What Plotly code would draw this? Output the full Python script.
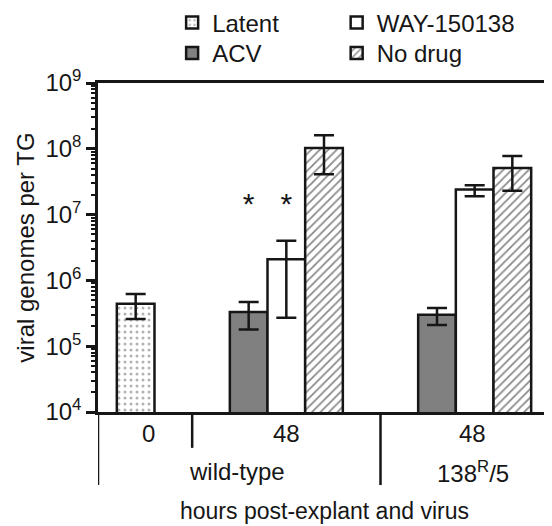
import plotly.graph_objects as go

# ---- data ----
series_names = ["Latent", "ACV", "WAY-150138", "No drug"]
group_centers = [1.0, 5.0, 10.0]  # 0 h; 48 h wild-type; 48 h 138R/5

latent_x = [1.0]
latent_val = [4.4e5]
latent_hi = [6.2e5]
latent_lo = [2.6e5]

treat_x = [5.0, 10.0]
acv_val = [3.3e5, 3.0e5]
acv_hi = [4.7e5, 3.8e5]
acv_lo = [1.8e5, 2.1e5]

way_val = [2.1e6, 2.4e7]
way_hi = [4.0e6, 2.8e7]
way_lo = [2.7e5, 1.9e7]

nod_val = [1.03e8, 5.1e7]
nod_hi = [1.6e8, 7.8e7]
nod_lo = [4.1e7, 2.3e7]

star_x = [4.0, 5.0]
star_y = [1.35e7, 1.35e7]

ytick_vals = [1e4, 1e5, 1e6, 1e7, 1e8, 1e9]
ytick_text = ["10<sup>4</sup>", "10<sup>5</sup>", "10<sup>6</sup>",
              "10<sup>7</sup>", "10<sup>8</sup>", "10<sup>9</sup>"]

time_labels = ["0", "48", "48"]
time_label_x = [1.33, 5.0, 9.95]
virus_labels = ["wild-type", "138<sup>R</sup>/5"]
virus_label_x = [3.7, 9.95]
xaxis_title = "hours post-explant and virus"
yaxis_title = "viral genomes per TG"

FONT = "Liberation Sans, Arial, sans-serif"
FS = 24
INK = "#161616"
LW = 2.5


def err(vals, hi, lo):
    return dict(type="data", symmetric=False,
                array=[h - v for h, v in zip(hi, vals)],
                arrayminus=[v - l for v, l in zip(vals, lo)],
                color=INK, thickness=2.5, width=10)


fig = go.Figure()
fig.add_trace(go.Bar(
    name=series_names[0], x=latent_x, y=latent_val, width=1, offset=-0.5,
    marker=dict(color="white", line=dict(color=INK, width=LW),
                pattern=dict(shape=".", fgcolor="#666666", bgcolor="white",
                             size=6, solidity=0.2)),
    error_y=err(latent_val, latent_hi, latent_lo), legend="legend"))
fig.add_trace(go.Bar(
    name=series_names[1], x=treat_x, y=acv_val, width=1, offset=-1.5,
    marker=dict(color="#808080", line=dict(color=INK, width=LW)),
    error_y=err(acv_val, acv_hi, acv_lo), legend="legend2"))
fig.add_trace(go.Bar(
    name=series_names[2], x=treat_x, y=way_val, width=1, offset=-0.5,
    marker=dict(color="white", line=dict(color=INK, width=LW)),
    error_y=err(way_val, way_hi, way_lo), legend="legend3"))
fig.add_trace(go.Bar(
    name=series_names[3], x=treat_x, y=nod_val, width=1, offset=0.5,
    marker=dict(color="white", line=dict(color=INK, width=LW),
                pattern=dict(shape="/", fgcolor=INK, bgcolor="white",
                             size=6, solidity=0.3)),
    error_y=err(nod_val, nod_hi, nod_lo), legend="legend4"))
fig.add_trace(go.Scatter(
    x=star_x, y=star_y, mode="text", text=["*"] * len(star_x),
    textfont=dict(size=30, color=INK, family=FONT), showlegend=False,
    hoverinfo="skip"))

# category annotations below axis
annotations = []
for t, xv in zip(time_labels, time_label_x):
    annotations.append(dict(x=xv, y=-0.064, xref="x", yref="paper", text=t,
                            showarrow=False, font=dict(size=FS, color=INK, family=FONT),
                            yanchor="middle"))
for t, xv in zip(virus_labels, virus_label_x):
    annotations.append(dict(x=xv, y=-0.182, xref="x", yref="paper", text=t,
                            showarrow=False, font=dict(size=FS, color=INK, family=FONT),
                            yanchor="middle"))
annotations.append(dict(x=0.5, y=-0.301, xref="paper", yref="paper", text=xaxis_title,
                        showarrow=False, font=dict(size=23, color=INK, family=FONT),
                        yanchor="middle"))

shapes = []
for xv, y0 in [(0, -0.222), (2.5, -0.109), (7.5, -0.222), (12, -0.222)]:
    shapes.append(dict(type="line", xref="x", yref="paper", x0=xv, x1=xv,
                       y0=0, y1=y0, line=dict(color=INK, width=LW)))

leg_common = dict(orientation="v", xanchor="left", yanchor="top",
                  font=dict(size=FS, color=INK, family=FONT),
                  bgcolor="rgba(0,0,0,0)")
# The page body has an 8px margin, so the figure is 8px smaller each way
fig.update_layout(
    width=544, height=518,
    margin=dict(l=90, r=2, t=75, b=114, autoexpand=False),
    plot_bgcolor="white", paper_bgcolor="white",
    barmode="overlay",
    font=dict(family=FONT, size=FS, color=INK),
    showlegend=True,
    legend=dict(x=0.164, y=1.251, **leg_common),
    legend2=dict(x=0.164, y=1.158, **leg_common),
    legend3=dict(x=0.528, y=1.251, **leg_common),
    legend4=dict(x=0.528, y=1.158, **leg_common),
    annotations=annotations,
    shapes=shapes,
)
fig.update_xaxes(range=[0, 12], showticklabels=False, ticks="", showgrid=False,
                 zeroline=False, showline=True, linecolor=INK, linewidth=LW, mirror=True,
                 automargin=False)
fig.update_yaxes(type="log", range=[4, 9], tickvals=ytick_vals, ticktext=ytick_text,
                 ticks="outside", ticklen=9, tickwidth=2.5, tickcolor=INK,
                 minor=dict(ticks="outside", ticklen=4, tickwidth=1.5, tickcolor=INK,
                            dtick="D1", showgrid=False),
                 showgrid=False, zeroline=False, showline=True, linecolor=INK,
                 linewidth=LW, mirror=True, automargin=False,
                 tickfont=dict(size=FS, color=INK, family=FONT),
                 title=dict(text=yaxis_title, font=dict(size=FS, color=INK, family=FONT),
                            standoff=5))

fig.write_html("out.html")
